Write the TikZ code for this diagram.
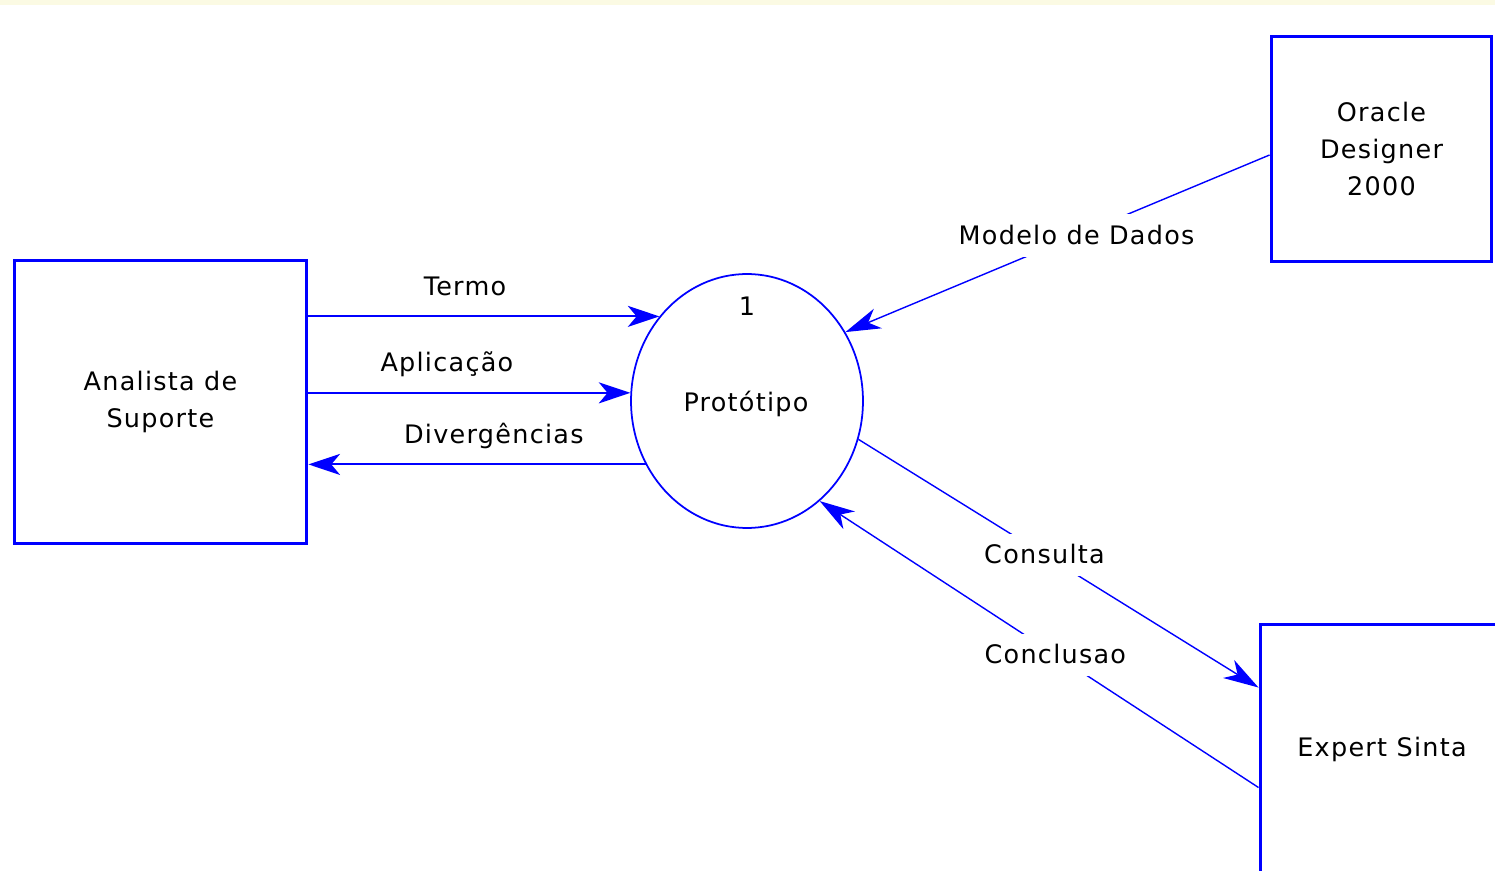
\documentclass[tikz,border=0pt]{standalone}
\usepackage{fontspec}
\setmainfont{DejaVu Sans}[LetterSpace=5]
\usetikzlibrary{arrows.meta,shapes.geometric,calc}
\definecolor{dfdblue}{RGB}{0,0,255}
\definecolor{topband}{RGB}{251,250,227}
\begin{document}
\begin{tikzpicture}[x=0.02cm,y=-0.02cm,
  every node/.style={font=\fontsize{14.5}{21}\selectfont, text=black},
  entity/.style={draw=dfdblue, line width=1.7pt, rectangle, align=center, inner sep=0pt},
  process/.style={draw=dfdblue, line width=1pt, ellipse, minimum width=4.64cm, minimum height=5.08cm, inner sep=0pt},
  flowh/.style={draw=dfdblue, line width=1.1pt, -{Stealth[length=18pt,width=12pt,inset=5pt]}},
  flowd/.style={draw=dfdblue, line width=0.8pt, -{Stealth[length=20pt,width=12pt,inset=6pt]}},
  flowlabel/.style={anchor=base, yshift=0.42cm, inner sep=0pt},
  cutlabel/.style={fill=white, inner xsep=2pt, inner ysep=6pt, text height=11pt, text depth=1pt}
]
\path[use as bounding box] (0,0) rectangle (1495,871);
\clip (0,0) rectangle (1495,871);
\fill[topband] (0,0) rectangle (1495,5);

\node[entity, minimum width=5.86cm, minimum height=5.68cm] (ana) at (160.5,402) {Analista de\\Suporte};
\node[entity, minimum width=4.42cm, minimum height=4.52cm] (oracle) at (1381.5,149) {Oracle\\Designer\\2000};
\node[entity, minimum width=6cm, minimum height=6cm] (expert) at (1410,774) {};
\node (exlabel) at (1382,749) {Expert Sinta};
\node[process] (proc) at (747,401) {};
\node (ptext) at (746,404) {Protótipo};
\node (num) at (747,306) {1};

\draw[flowh] (ana.east |- proc.136) -- node[flowlabel, pos=0.446] {Termo} (proc.136);
\draw[flowh] (ana.east |- proc.176) -- node[flowlabel, pos=0.43] {Aplicação} (proc.176);
\draw[flowh] (proc.212) -- node[flowlabel, pos=0.45] {Divergências} (ana.east |- proc.212);

\draw[flowd] ($(oracle.west)+(0,6)$) -- node[cutlabel, pos=0.455] {Modelo de Dados} (proc.35);
\draw[flowd] (proc.-19) -- node[cutlabel, pos=0.465] {Consulta} ($(expert.north west)+(0,65)$);
\draw[flowd] ($(expert.north west)+(0,165)$) -- node[cutlabel, pos=0.463] {Conclusao} (proc.-54);
\end{tikzpicture}
\end{document}
